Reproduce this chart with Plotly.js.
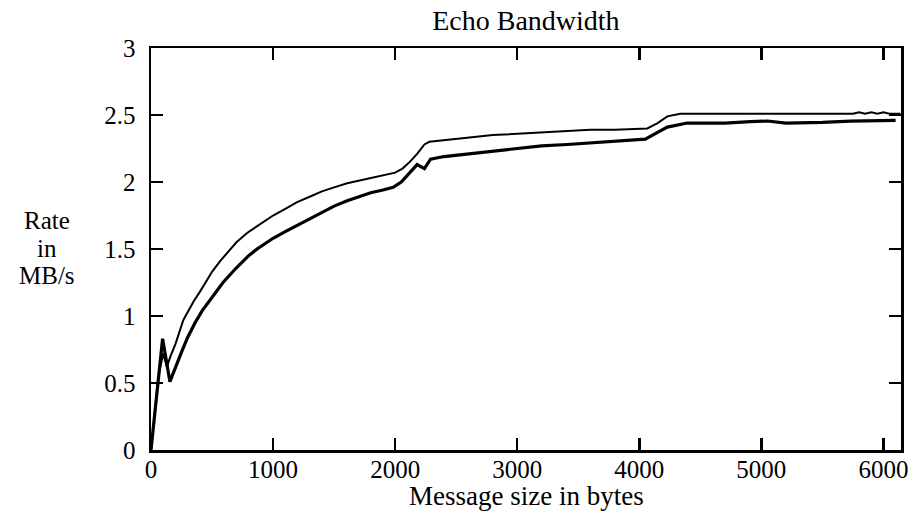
<!DOCTYPE html>
<html>
<head>
<meta charset="utf-8">
<script src="https://cdn.plot.ly/plotly-3.0.1.min.js"></script>
<style>html,body{margin:0;padding:0;background:#fff;}#chart{width:913px;height:525px;}</style>
</head>
<body>
<div id="chart"></div>
<script>
// Upper (thin) curve
const upperX = [0, 30, 60, 100, 130, 160, 200, 265, 300, 350, 400, 450, 500, 566, 650, 700, 787, 900, 1000, 1100, 1197, 1300, 1400, 1500, 1607, 1700, 1800, 1900, 2000, 2060, 2120, 2180, 2240, 2280, 2400, 2590, 2800, 3000, 3200, 3410, 3600, 3800, 4066, 4150, 4230, 4336, 4800, 5300, 5750, 5800, 5850, 5900, 5950, 6000, 6050, 6140];
const upperY = [0, 0.30, 0.55, 0.72, 0.62, 0.70, 0.79, 0.97, 1.03, 1.11, 1.18, 1.25, 1.33, 1.41, 1.50, 1.55, 1.62, 1.69, 1.75, 1.80, 1.85, 1.89, 1.93, 1.96, 1.99, 2.01, 2.03, 2.05, 2.07, 2.10, 2.15, 2.21, 2.28, 2.30, 2.31, 2.33, 2.35, 2.36, 2.37, 2.38, 2.39, 2.39, 2.40, 2.44, 2.49, 2.51, 2.51, 2.51, 2.51, 2.52, 2.51, 2.52, 2.51, 2.52, 2.51, 2.51];
// Lower (thick) curve
const lowerX = [0, 50, 95, 155, 200, 250, 300, 361, 420, 500, 590, 700, 800, 869, 1000, 1100, 1246, 1400, 1500, 1607, 1700, 1800, 1900, 1984, 2050, 2120, 2180, 2240, 2290, 2400, 2590, 2800, 3000, 3200, 3410, 3700, 3902, 4049, 4150, 4230, 4393, 4700, 4910, 5050, 5200, 5500, 5730, 6100];
const lowerY = [0, 0.42, 0.83, 0.51, 0.62, 0.73, 0.84, 0.95, 1.04, 1.14, 1.25, 1.36, 1.45, 1.50, 1.58, 1.63, 1.70, 1.77, 1.82, 1.86, 1.89, 1.92, 1.94, 1.96, 2.00, 2.07, 2.13, 2.10, 2.17, 2.19, 2.21, 2.23, 2.25, 2.27, 2.28, 2.30, 2.31, 2.32, 2.37, 2.41, 2.44, 2.44, 2.45, 2.455, 2.44, 2.445, 2.455, 2.46];
const xTicks = [0, 1000, 2000, 3000, 4000, 5000, 6000];
const yTicks = [0, 0.5, 1, 1.5, 2, 2.5, 3];
const yTickText = ["0", "0.5", "1", "1.5", "2", "2.5", "3"];

const font = "'Liberation Serif', 'Times New Roman', serif";
const traces = [
  {x: upperX, y: upperY, mode: 'lines', line: {color: '#000', width: 2}, hoverinfo: 'none'},
  {x: lowerX, y: lowerY, mode: 'lines', line: {color: '#000', width: 3.2}, hoverinfo: 'none'}
];
const axisCommon = {
  showgrid: false, zeroline: false, showline: true, linecolor: '#000', linewidth: 2.5,
  mirror: 'ticks', ticks: 'inside', ticklen: 12, tickwidth: 2.5, tickcolor: '#000',
  tickfont: {family: font, size: 25, color: '#000'}
};
const layout = {
  width: 913, height: 525,
  margin: {l: 151, r: 12, t: 48, b: 75},
  paper_bgcolor: '#fff', plot_bgcolor: '#fff',
  showlegend: false,
  title: {text: 'Echo Bandwidth', font: {family: font, size: 28, color: '#000'}, x: 0.576, xanchor: 'center', y: 0.962, yanchor: 'middle'},
  xaxis: Object.assign({}, axisCommon, {range: [0, 6144], tickvals: xTicks, ticklabelstandoff: -5}),
  yaxis: Object.assign({}, axisCommon, {range: [0, 3], tickvals: yTicks, ticktext: yTickText, ticklabelstandoff: 8}),
  annotations: [
    {text: 'Rate', x: -0.138, y: 0.57, size: 25},
    {text: 'in', x: -0.138, y: 0.502, size: 25},
    {text: 'MB/s', x: -0.138, y: 0.435, size: 25},
    {text: 'Message size in bytes', x: 0.5, y: -0.115, size: 27}
  ].map(a => Object.assign({xref: 'paper', yref: 'paper', xanchor: 'center', yanchor: 'middle', showarrow: false,
    font: {family: font, size: a.size || 25, color: '#000'}}, {text: a.text, x: a.x, y: a.y}))
};
Plotly.newPlot('chart', traces, layout, {staticPlot: true});
</script>
</body>
</html>
